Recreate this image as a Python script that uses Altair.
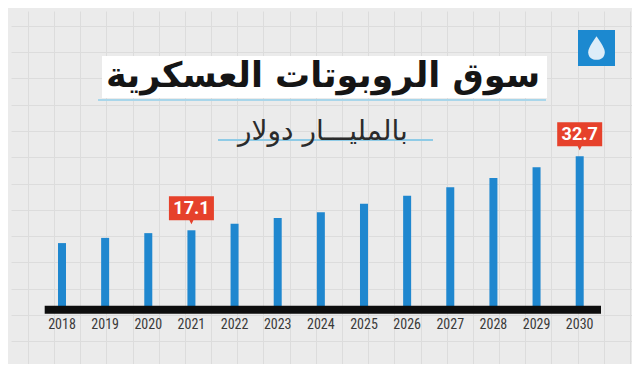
import altair as alt
import pandas as pd

# ---- data ----
years = [2018, 2019, 2020, 2021, 2022, 2023, 2024, 2025, 2026, 2027, 2028, 2029, 2030]
values = [14.4, 15.5, 16.5, 17.1, 18.5, 19.7, 20.9, 22.7, 24.4, 26.2, 28.1, 30.4, 32.7]
highlight_years = [2021, 2030]
title_text = "سوق الروبوتات العسكرية"
subtitle_text = "بالمليـــار دولار"

df = pd.DataFrame({"year": years, "value": values})
df["label"] = df["value"].map(lambda v: f"{v:.1f}")
df["ylab"] = df["year"].astype(str)
hl = df[df["year"].isin(highlight_years)]
one = pd.DataFrame({"d": [0]})

W, H = 624, 356
xs = alt.Scale(domain=[2018, 2030], range=[51, 568.7], zero=False, nice=False, padding=0)
ys = alt.Scale(domain=[0, 32.7], range=[300.4, 145.3], zero=True, nice=False, padding=0)

# background grid (decoration) drawn via axis grids
grid_x = [17 + 26.3 * k for k in range(24)]
grid_y = [15 + 26.5 * k for k in range(14)]
grid = alt.Chart(one).mark_point(opacity=0).encode(
    x=alt.X("d:Q", scale=alt.Scale(domain=[0, W], nice=False, zero=False),
            axis=alt.Axis(values=grid_x, grid=True, gridColor="#dcdcdc", gridWidth=1,
                          labels=False, ticks=False, domain=False, title=None)),
    y=alt.Y("d:Q", scale=alt.Scale(domain=[0, H], nice=False, zero=False, reverse=True),
            axis=alt.Axis(values=grid_y, grid=True, gridColor="#dcdcdc", gridWidth=1,
                          labels=False, ticks=False, domain=False, title=None)),
)

# title box and underline
title_box = alt.Chart(one).mark_rect(color="white").encode(
    x=alt.value(91), x2=alt.value(536), y=alt.value(45), y2=alt.value(87))
title_line = alt.Chart(one).mark_rect(color="#a9d6ea").encode(
    x=alt.value(87), x2=alt.value(535), y=alt.value(88), y2=alt.value(90))
title = alt.Chart(one).mark_text(
    align="center", baseline="alphabetic", font="DejaVu Sans", fontWeight="bold",
    fontSize=35, color="#151515").encode(
    x=alt.value(312), y=alt.value(76), text=alt.value(title_text))

sub_line = alt.Chart(one).mark_rect(color="#8fcbe6").encode(
    x=alt.value(207), x2=alt.value(422), y=alt.value(128), y2=alt.value(130))
subtitle = alt.Chart(one).mark_text(
    align="center", baseline="alphabetic", font="DejaVu Sans",
    fontSize=28, color="#2b2b2b").encode(
    x=alt.value(312), y=alt.value(129), text=alt.value(subtitle_text))

# logo
logo_box = alt.Chart(one).mark_rect(color="#1c89d0").encode(
    x=alt.value(567), x2=alt.value(604), y=alt.value(19), y2=alt.value(55))
drop_path = ("M0,-1 C0.45,-0.35 0.7,0.05 0.7,0.35 C0.7,0.78 0.38,1 0,1 "
             "C-0.38,1 -0.7,0.78 -0.7,0.35 C-0.7,0.05 -0.45,-0.35 0,-1 Z")
logo_drop = alt.Chart(one).mark_point(
    shape=drop_path, filled=True, color="white", opacity=0.85, size=560).encode(
    x=alt.value(585.5), y=alt.value(37))

# bars
bars = alt.Chart(df).mark_bar(size=8, color="#1f87cf").encode(
    x=alt.X("year:Q", scale=xs, axis=None),
    y=alt.Y("value:Q", scale=ys, axis=None),
)

baseline = alt.Chart(one).mark_rect(color="#0d0d0d").encode(
    x=alt.value(33.7), x2=alt.value(590), y=alt.value(294.7), y2=alt.value(302.7))

year_labels = alt.Chart(df).mark_text(
    align="center", baseline="middle", font="Liberation Sans Narrow, Roboto Condensed, DejaVu Sans Condensed",
    fontSize=14, color="#3a3a3a").encode(
    x=alt.X("year:Q", scale=xs, axis=None),
    y=alt.value(314),
    text="ylab:N",
)

callout_path = ("M-1,-0.533 L1,-0.533 L1,0.533 L0.09,0.533 L0,0.71 "
                "L-0.09,0.533 L-1,0.533 Z")
callouts = alt.Chart(hl).mark_point(
    shape=callout_path, filled=True, color="#e6412b", opacity=1, size=2025, yOffset=-22).encode(
    x=alt.X("year:Q", scale=xs, axis=None),
    y=alt.Y("value:Q", scale=ys, axis=None),
)
callout_text = alt.Chart(hl).mark_text(
    align="center", baseline="middle", font="Roboto", fontWeight="bold",
    fontSize=18, color="white", yOffset=-21).encode(
    x=alt.X("year:Q", scale=xs, axis=None),
    y=alt.Y("value:Q", scale=ys, axis=None),
    text="label:N",
)

chart = alt.layer(
    grid, title_box, title_line, title, sub_line, subtitle, logo_box, logo_drop,
    bars, baseline, year_labels, callouts, callout_text,
).resolve_scale(x="independent", y="independent").properties(
    width=W, height=H, padding=0, background="#ebebeb",
    autosize=alt.AutoSizeParams(type="fit", contains="padding"),
).configure_view(stroke=None)

chart.save("out.html", embed_options={"renderer": "svg", "actions": False})
